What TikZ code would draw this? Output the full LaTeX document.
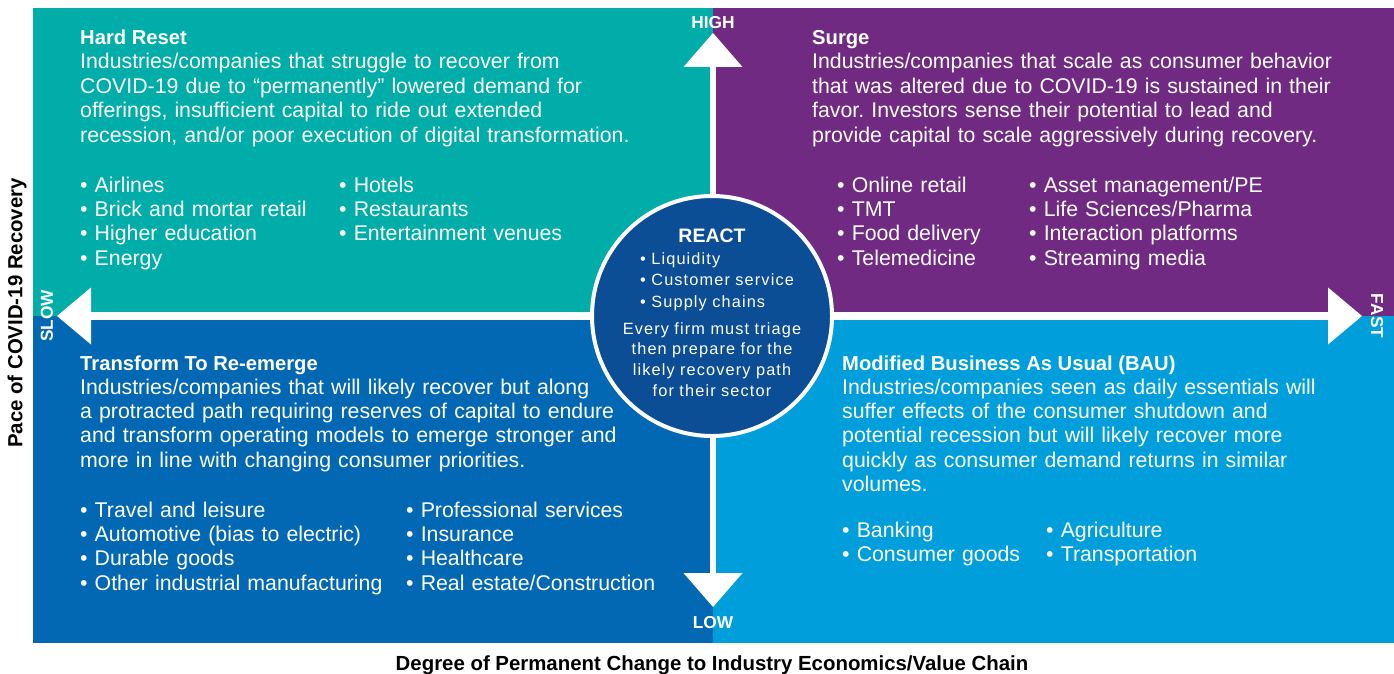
\documentclass[tikz,border=0pt]{standalone}
\usepackage{fontspec}
\setmainfont{Liberation Sans}
\newfontfamily\circfont{Liberation Sans}[LetterSpace=7]
\frenchspacing
\definecolor{qteal}{RGB}{0,173,168}
\definecolor{qpurple}{RGB}{112,42,130}
\definecolor{qblue}{RGB}{3,104,180}
\definecolor{qlight}{RGB}{0,158,219}
\definecolor{qdark}{RGB}{12,78,150}
\begin{document}
\begin{tikzpicture}[x=1pt,y=-1pt,
  title/.style={anchor=base west, inner sep=0, text=white, font=\bfseries\fontsize{20.2}{22}\selectfont},
  body/.style={anchor=base west, inner sep=0, text=white, align=left, text width=640pt, font=\fontsize{21.3}{24.4}\selectfont},
  blist/.style={anchor=base west, inner sep=0, text=white, align=left, text width=330pt, font=\fontsize{21.3}{24.4}\selectfont},
  axislab/.style={inner sep=0, text=white, font=\bfseries\fontsize{17.3}{18}\selectfont},
  outerlab/.style={inner sep=0, text=black, font=\bfseries\fontsize{20.4}{22}\selectfont},
  shaft/.style={draw=white},
  tip/.style={fill=white},
  circtext/.style={inner sep=0, text=white, font=\circfont\fontsize{16.3}{21.5}\selectfont}
]
\useasboundingbox (0,0) rectangle (1394,674);
% quadrants
\fill[qteal]   (33,8)    rectangle (713,316);
\fill[qpurple] (713,8)   rectangle (1394,316);
\fill[qblue]   (33,316)  rectangle (713,643);
\fill[qlight]  (713,316) rectangle (1394,643);

% axes
\coordinate (top) at (713,33);
\coordinate (bot) at (713,607);
\coordinate (lft) at (57,316);
\coordinate (rgt) at (1362,316);
\coordinate (vs1) at (713,66);
\coordinate (vs2) at (713,574);
\coordinate (hs1) at (90,316);
\coordinate (hs2) at (1329,316);
\draw[shaft, line width=6.5pt] (vs1) -- (vs2);
\draw[shaft, line width=8pt] (hs1) -- (hs2);
\fill[tip] (top) -- ([xshift=-29.5pt,yshift=-34pt]top) -- ([xshift=29.5pt,yshift=-34pt]top) -- cycle;
\fill[tip] (bot) -- ([xshift=-29.5pt,yshift=34pt]bot) -- ([xshift=29.5pt,yshift=34pt]bot) -- cycle;
\fill[tip] (lft) -- ([xshift=34pt,yshift=28.5pt]lft) -- ([xshift=34pt,yshift=-28.5pt]lft) -- cycle;
\fill[tip] (rgt) -- ([xshift=-34pt,yshift=28.5pt]rgt) -- ([xshift=-34pt,yshift=-28.5pt]rgt) -- cycle;

\node[axislab, anchor=base] (high) at (713,29) {HIGH};
\node[axislab, anchor=base] (low) at (713,628) {LOW};
\node[axislab, rotate=90] (slow) at (47,316) {SLOW};
\node[axislab, rotate=-90] (fast) at (1377,316) {FAST};

\node[outerlab, rotate=90] (ylab) at (17,313) {Pace of COVID-19 Recovery};
\node[outerlab, anchor=base] (xlab) at (712,670) {Degree of Permanent Change to Industry Economics/Value Chain};

% top left
\node[title] (hrt) at (80,45) {Hard Reset};
\node[body] (hrb) at (80,69) {Industries/companies that struggle to recover from\\
COVID-19 due to “permanently” lowered demand for\\
offerings, insufficient capital to ride out extended\\
recession, and/or poor execution of digital transformation.};
\node[blist] (hr1) at (80,192) {• Airlines\\ • Brick and mortar retail\\ • Higher education\\ • Energy};
\node[blist] (hr2) at (339,192) {• Hotels\\ • Restaurants\\ • Entertainment venues};

% top right
\node[title] (sgt) at (812,45) {Surge};
\node[body] (sgb) at (812,69) {Industries/companies that scale as consumer behavior\\
that was altered due to COVID-19 is sustained in their\\
favor. Investors sense their potential to lead and\\
provide capital to scale aggressively during recovery.};
\node[blist] (sg1) at (837,192) {• Online retail\\ • TMT\\ • Food delivery\\ • Telemedicine};
\node[blist] (sg2) at (1029,192) {• Asset management/PE\\ • Life Sciences/Pharma\\ • Interaction platforms\\ • Streaming media};

% bottom left
\node[title] (trt) at (80,370) {Transform To Re-emerge};
\node[body] (trb) at (80,394) {Industries/companies that will likely recover but along\\
a protracted path requiring reserves of capital to endure\\
and transform operating models to emerge stronger and\\
more in line with changing consumer priorities.};
\node[blist] (tr1) at (80,517) {• Travel and leisure\\ • Automotive (bias to electric)\\ • Durable goods\\ • Other industrial manufacturing};
\node[blist] (tr2) at (406,517) {• Professional services\\ • Insurance\\ • Healthcare\\ • Real estate/Construction};

% bottom right
\node[title] (mbt) at (842,370) {Modified Business As Usual (BAU)};
\node[body] (mbb) at (842,394) {Industries/companies seen as daily essentials will\\
suffer effects of the consumer shutdown and\\
potential recession but will likely recover more\\
quickly as consumer demand returns in similar\\
volumes.};
\node[blist] (mb1) at (842,537) {• Banking\\ • Consumer goods};
\node[blist] (mb2) at (1046,537) {• Agriculture\\ • Transportation};

% center circle
\node[circle, fill=qdark, draw=white, line width=4pt, minimum size=240pt, inner sep=0] (react) at (712,316) {};
\node[inner sep=0, text=white, font=\bfseries\fontsize{19.5}{22}\selectfont, anchor=base] (reactt) at (712,242) {REACT};
\node[circtext, anchor=base west, align=left, text width=200pt] (reactl) at (640,264) {• Liquidity\\ • Customer service\\ • Supply chains};
\node[circtext, anchor=base, align=center, text width=220pt, font=\circfont\fontsize{16.3}{20.7}\selectfont] (reactp) at (712,334) {Every firm must triage\\ then prepare for the\\ likely recovery path\\ for their sector};
\end{tikzpicture}
\end{document}
